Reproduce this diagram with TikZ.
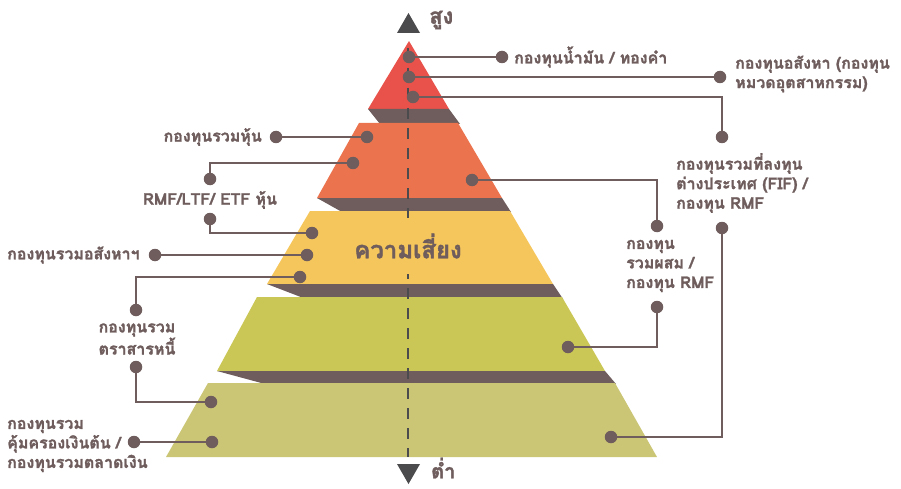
\documentclass[tikz,border=0pt]{standalone}
\usepackage{fontspec}
\usepackage{xcolor}
\usepackage{tikz}
\newfontfamily\thaifont[Script=Thai,FakeBold=1.6]{Loma}
\definecolor{toptier}{HTML}{E8524A}
\definecolor{uppertier}{HTML}{EB744E}
\definecolor{midtier}{HTML}{F5C65B}
\definecolor{lowertier}{HTML}{CBC756}
\definecolor{basetier}{HTML}{CBC676}
\definecolor{tiershadow}{HTML}{6E5D5C}
\definecolor{linkbrown}{HTML}{6E5D5C}
\definecolor{axisgray}{HTML}{4B4B4D}

\begin{document}
\begin{tikzpicture}[x=1pt,y=-1pt,
  pin/.style={circle,fill=linkbrown,inner sep=0pt,minimum size=12.5pt},
  link/.style={draw=linkbrown,line width=2.6pt},
  lbl/.style={text=linkbrown,inner sep=0pt,align=left,
    font=\thaifont\bfseries\fontsize{16}{19.5}\selectfont}]
  \useasboundingbox (0,0) rectangle (901,489);
  % pyramid, top to bottom
  \fill[toptier] (409,41) -- (449,109) -- (368,109) -- cycle;
  \fill[tiershadow] (368,109) -- (449,109) -- (460,124) -- (380,124) -- cycle;
  \fill[uppertier] (359,123) -- (458,123) -- (502,198) -- (317,198) -- cycle;
  \fill[tiershadow] (317,198) -- (502,198) -- (511,212) -- (342,212) -- cycle;
  \fill[midtier] (310,211) -- (510,211) -- (553,284) -- (267,284) -- cycle;
  \fill[tiershadow] (267,284) -- (553,284) -- (563,299) -- (306,299) -- cycle;
  \fill[lowertier] (257,297) -- (562,297) -- (605,371) -- (217,371) -- cycle;
  \fill[tiershadow] (217,371) -- (605,371) -- (616,384) -- (265,384) -- cycle;
  \fill[basetier] (208,383) -- (615,383) -- (657,457) -- (166,457) -- cycle;
  \draw[axisgray,line width=2.6pt,dash pattern=on 11pt off 9pt] (408,48) -- (408,457);
  \node[fill=midtier,inner xsep=3pt,minimum height=56pt,text=linkbrown,
    font=\thaifont\bfseries\fontsize{24}{30}\selectfont] (risk) at (408,246) {ความเสี่ยง};
  % high / low
  \fill[axisgray] (397,33) -- (420,33) -- (408.5,13) -- cycle;
  \fill[axisgray] (397,464) -- (420,464) -- (408.5,484) -- cycle;
  \node[lbl,anchor=west,font=\thaifont\bfseries\fontsize{22}{26}\selectfont] (high) at (429,20) {สูง};
  \node[lbl,anchor=west,font=\thaifont\bfseries\fontsize{20}{24}\selectfont] (low) at (431,468) {ต่ำ};

  % top tier
  \node[pin] (oilA) at (409,57) {};
  \node[pin] (oilB) at (502,57) {};
  \draw[link] (oilA) -- (oilB);
  \node[lbl,anchor=west] (oil) at (514,57) {กองทุนน้ำมัน / ทองคำ};
  \node[pin] (propA) at (409,77) {};
  \node[pin] (propB) at (720,77) {};
  \draw[link] (propA) -- (propB);
  \node[lbl,anchor=west] (prop) at (735,74) {กองทุนอสังหา (กองทุน\\หมวดอุตสาหกรรม)};
  \node[pin] (fifA) at (413,97) {};
  \node[pin] (fifB) at (722,137) {};
  \draw[link] (fifA) -| (fifB);
  \node[lbl,anchor=west] (fif) at (676,183) {กองทุนรวมที่ลงทุน\\ต่างประเทศ (FIF) /\\กองทุน RMF};
  \node[pin] (fifC) at (722,228) {};
  \node[pin] (fifD) at (611,437) {};
  \draw[link] (fifC) |- (fifD);

  % upper tier
  \node[pin] (stkA) at (367,137) {};
  \node[pin] (stkB) at (276,137) {};
  \draw[link] (stkA) -- (stkB);
  \node[lbl,anchor=east] (stk) at (262,137) {กองทุนรวมหุ้น};
  \node[pin] (rmfA) at (353,163) {};
  \node[pin] (rmfB) at (210,179) {};
  \draw[link] (rmfA) -| (rmfB);
  \node[lbl] (rmf) at (210,200) {RMF/LTF/ ETF หุ้น};
  \node[pin] (rmfC) at (210,219) {};
  \node[pin] (rmfD) at (312,233) {};
  \draw[link] (rmfC) |- (rmfD);
  \node[pin] (mixA) at (472,180) {};
  \node[pin] (mixB) at (657,226) {};
  \draw[link] (mixA) -| (mixB);
  \node[lbl,anchor=west] (mix) at (626,266) {กองทุน\\รวมผสม /\\กองทุน RMF};
  \node[pin] (mixC) at (657,307) {};
  \node[pin] (mixD) at (568,347) {};
  \draw[link] (mixC) |- (mixD);

  % middle tier
  \node[pin] (reitA) at (307,255) {};
  \node[pin] (reitB) at (155,255) {};
  \draw[link] (reitA) -- (reitB);
  \node[lbl,anchor=west] (reit) at (7,255) {กองทุนรวมอสังหาฯ};
  \node[pin] (bondA) at (300,277) {};
  \node[pin] (bondB) at (136,310) {};
  \draw[link] (bondA) -| (bondB);
  \node[lbl] (bond) at (137,339) {กองทุนรวม\\ตราสารหนี้};
  \node[pin] (bondC) at (136,367) {};
  \node[pin] (bondD) at (211,402) {};
  \draw[link] (bondC) |- (bondD);

  % base tier
  \node[pin] (mmA) at (212,442) {};
  \node[pin] (mmB) at (134,442) {};
  \draw[link] (mmA) -- (mmB);
  \node[lbl,anchor=west] (mm) at (7,446) {กองทุนรวม\\คุ้มครองเงินต้น /\\กองทุนรวมตลาดเงิน};
\end{tikzpicture}
\end{document}
